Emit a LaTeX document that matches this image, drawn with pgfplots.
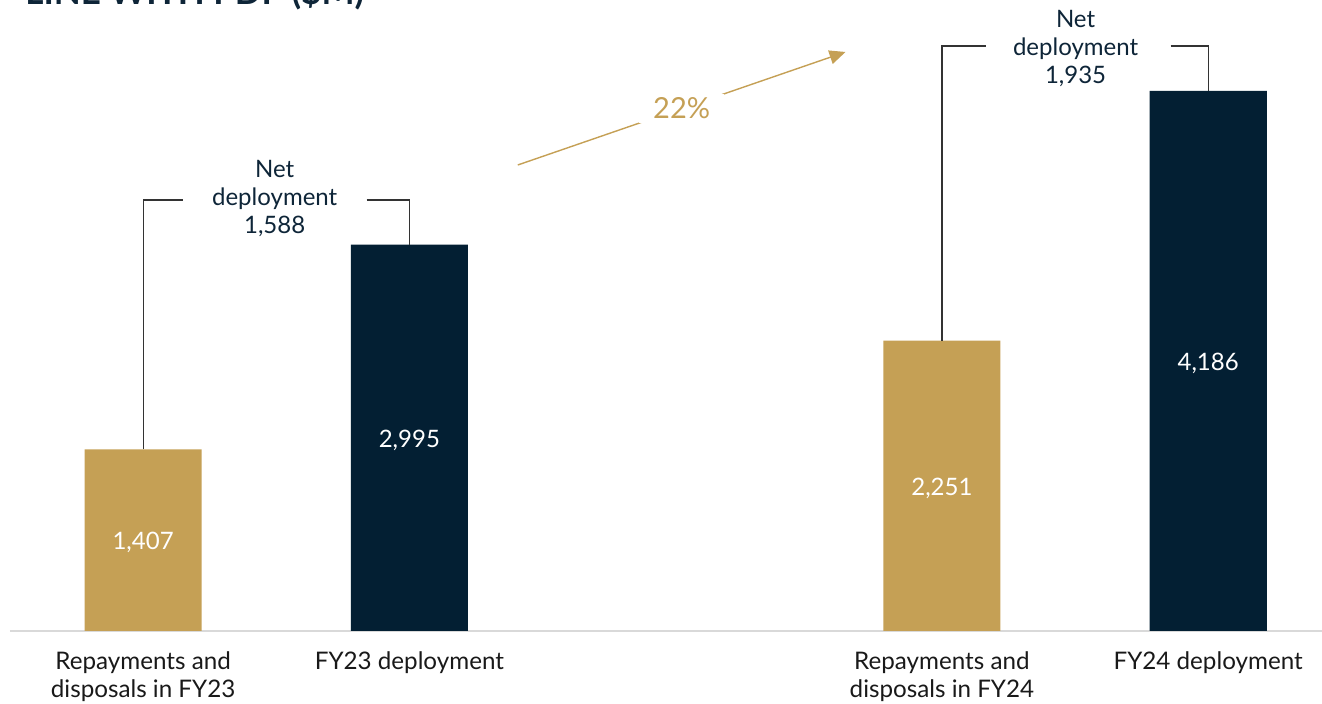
\documentclass[border=0pt]{standalone}
\usepackage{pgfplots}
\pgfplotsset{compat=1.18}
\usepackage{fontspec}
\setmainfont{Lato}
\usetikzlibrary{arrows.meta}

\definecolor{gold}{HTML}{C5A055}
\definecolor{navy}{HTML}{031F33}
\definecolor{ink}{HTML}{0E2538}
\definecolor{rulegray}{HTML}{D9D9D9}
\definecolor{bracket}{HTML}{333333}

\begin{document}
\begin{tikzpicture}
% page frame (title runs past the top edge)
\useasboundingbox (-5pt,-36.5pt) rectangle (656pt,315.5pt);
\node[anchor=base west, inner sep=0, text=ink,
      font=\fontsize{17.5}{20}\selectfont\bfseries] at (7.5pt,313.2pt) {LINE WITH PDP (\$M)};
\begin{axis}[
  at={(0pt,0pt)}, anchor=south west,
  scale only axis, width=656pt, height=315.5pt,
  xmin=-0.5, xmax=4.4275, ymin=0, ymax=4891,
  axis y line=none,
  axis x line*=bottom,
  x axis line style={rulegray, line width=1pt, -},
  xtick={0,1,3,4},
  xticklabels={{Repayments and\\disposals in FY23},{FY23 deployment},{Repayments and\\disposals in FY24},{FY24 deployment}},
  major tick length=0pt,
  xticklabel style={align=center, anchor=north, yshift=-7pt, text=black!90,
                    font=\fontsize{12.1}{14}\selectfont},
  clip=false,
  /pgf/number format/assume math mode=true,
  /pgf/number format/1000 sep={,},
  visualization depends on={rawy \as \rawy},
  every node near coord/.append style={anchor=center, text=white,
        font=\fontsize{12}{14}\selectfont, yshift={-0.032253*\rawy-1.2}},
]
% repayments and disposals
\addplot[ybar, bar width=0.44, bar shift=0pt, fill=gold, draw=none, nodes near coords]
  coordinates {(0,1407) (3,2251)};
% deployment
\addplot[ybar, bar width=0.44, bar shift=0pt, fill=navy, draw=none, nodes near coords]
  coordinates {(1,2995) (4,4186)};

% net deployment brackets
\draw[bracket, line width=0.6pt] (axis cs:0,1407) |- (axis cs:0.150,3341);
\draw[bracket, line width=0.6pt] (axis cs:0.839,3341) -| (axis cs:1,2995);
\node[align=center, text=ink, font=\fontsize{12}{14}\selectfont] at (axis cs:0.494,3350) {Net\\deployment\\1,588};

\draw[bracket, line width=0.6pt] (axis cs:3,2251) |- (axis cs:3.165,4535);
\draw[bracket, line width=0.6pt] (axis cs:3.859,4535) -| (axis cs:4,4186);
\node[align=center, text=ink, font=\fontsize{12}{14}\selectfont] at (axis cs:3.502,4513) {Net\\deployment\\1,935};

% growth arrow
\draw[gold, line width=0.7pt, -{Triangle[length=8pt,width=7pt]}]
  (axis cs:1.407,3612) -- (axis cs:2.638,4488)
  node[pos=0.5, fill=white, inner xsep=7pt, inner ysep=2pt, text=gold,
       font=\fontsize{14.5}{16}\selectfont] {22\%};
\end{axis}
\end{tikzpicture}
\end{document}
